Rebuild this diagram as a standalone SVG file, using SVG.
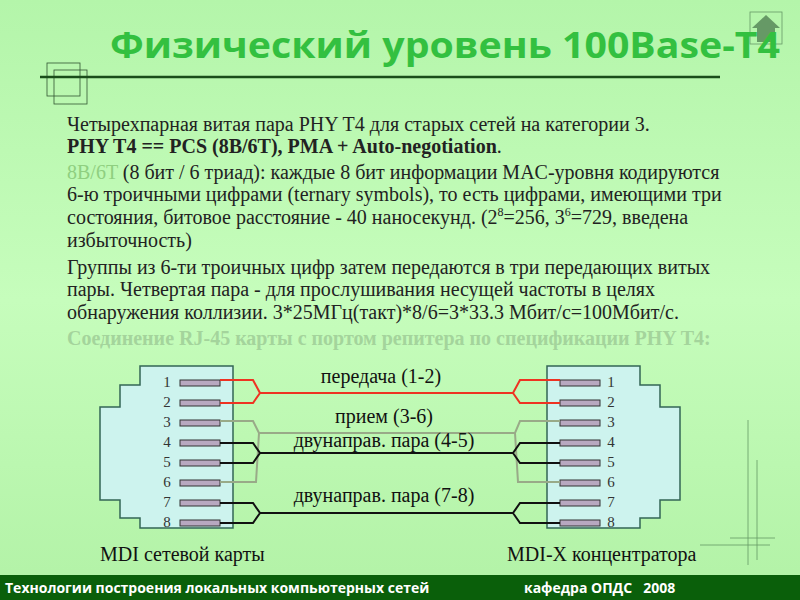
<svg xmlns="http://www.w3.org/2000/svg" width="800" height="600" viewBox="0 0 800 600">
<defs>
<linearGradient id="bg" x1="0" y1="0" x2="0" y2="1"><stop offset="0" stop-color="#b4f5aa"/><stop offset="0.5" stop-color="#c6fdbc"/><stop offset="1" stop-color="#b2f2a6"/></linearGradient>
</defs>
<style>
.t{font-size:20px;fill:#222}
.n{font-size:15px;fill:#333}
.lb{font-size:20px;fill:#111}
.box{fill:#cdf3ee;stroke:#336655;stroke-width:1.5}
.pin{fill:#b8a8c0;stroke:#333;stroke-width:1}
.w{fill:none;stroke-width:2}
</style>
<rect width="800" height="600" fill="url(#bg)"/>
<g id="deco" fill="none" stroke="#335533" stroke-width="0.8">
<rect x="47" y="63" width="33" height="33"/><rect x="54" y="70" width="33" height="34"/>
<rect x="750" y="12" width="32" height="32" stroke="#669966"/>
<path d="M752 28 L766 15 L780 28 Z" fill="#669966" stroke="none"/>
<rect x="757" y="28" width="18" height="14" fill="#669966" stroke="none"/>
<g stroke="#669966"><line x1="748" y1="420" x2="748" y2="565"/><line x1="757" y1="460" x2="757" y2="560"/><line x1="700" y1="545" x2="770" y2="545"/><line x1="730" y1="538" x2="775" y2="538"/></g>
</g>
<text x="110" y="58" textLength="670" lengthAdjust="spacingAndGlyphs" font-family="'Open Sans','DejaVu Sans',sans-serif" font-weight="bold" font-size="36" fill="#33c040">Физический уровень 100Base-T4</text>
<line x1="40" y1="77" x2="720" y2="77" stroke="#1a4d1a" stroke-width="2.5"/>
<g id="body" font-family="'Liberation Serif','Times New Roman','DejaVu Serif',serif">
<text class="t" x="67" y="131">Четырехпарная витая пара PHY T4 для старых сетей на категории 3.</text>
<text class="t" x="67" y="153" font-weight="bold">PHY T4 == PCS (8B/6T), PMA + Auto-negotiation<tspan font-weight="normal">.</tspan></text>
<text class="t" x="67" y="179"><tspan fill="#8fcf80">8B/6T</tspan> (8 бит / 6 триад): каждые 8 бит информации MAC-уровня кодируются</text>
<text class="t" x="67" y="201">6-ю троичными цифрами (ternary symbols), то есть цифрами, имеющими три</text>
<text class="t" x="67" y="224">состояния, битовое расстояние - 40 наносекунд. (2<tspan font-size="12" dy="-8">8</tspan><tspan dy="8">=256, 3</tspan><tspan font-size="12" dy="-8">6</tspan><tspan dy="8">=729, введена</tspan></text>
<text class="t" x="67" y="247">избыточность)</text>
<text class="t" x="67" y="274">Группы из 6-ти троичных цифр затем передаются в три передающих витых</text>
<text class="t" x="67" y="296">пары. Четвертая пара - для прослушивания несущей частоты в целях</text>
<text class="t" x="67" y="319">обнаружения коллизии. 3*25МГц(такт)*8/6=3*33.3 Мбит/с=100Мбит/с.</text>
<text class="t" x="67" y="345" font-weight="bold" style="fill:#a4d49c">Соединение RJ-45 карты с портом репитера по спецификации PHY T4:</text>
</g>
<g font-family="'Liberation Serif','Times New Roman','DejaVu Serif',serif">
<g id="mdi">
<path class="box" d="M140 366 H233 V528 H140 V518 H120 V500 H100 V407 H120 V385 H140 Z"/>
<g class="pin"><rect x="180" y="380" width="40" height="6"/><rect x="180" y="400" width="40" height="6"/><rect x="180" y="420" width="40" height="6"/><rect x="180" y="440" width="40" height="6"/><rect x="180" y="460" width="40" height="6"/><rect x="180" y="480" width="40" height="6"/><rect x="180" y="500" width="40" height="6"/><rect x="180" y="520" width="40" height="6"/></g>
<g class="n" text-anchor="middle"><text x="167" y="387">1</text><text x="167" y="407">2</text><text x="167" y="427">3</text><text x="167" y="447">4</text><text x="167" y="467">5</text><text x="167" y="487">6</text><text x="167" y="507">7</text><text x="167" y="527">8</text></g>
<text class="lb" x="100" y="561" font-size="21">MDI сетевой карты</text>
</g>
<g id="mdix">
<path class="box" d="M547 366 H640 V385 H660 V407 H680 V500 H660 V518 H640 V528 H547 Z"/>
<g class="pin"><rect x="560" y="380" width="40" height="6"/><rect x="560" y="400" width="40" height="6"/><rect x="560" y="420" width="40" height="6"/><rect x="560" y="440" width="40" height="6"/><rect x="560" y="460" width="40" height="6"/><rect x="560" y="480" width="40" height="6"/><rect x="560" y="500" width="40" height="6"/><rect x="560" y="520" width="40" height="6"/></g>
<g class="n" text-anchor="middle"><text x="611" y="387">1</text><text x="611" y="407">2</text><text x="611" y="427">3</text><text x="611" y="447">4</text><text x="611" y="467">5</text><text x="611" y="487">6</text><text x="611" y="507">7</text><text x="611" y="527">8</text></g>
<text class="lb" x="507" y="561">MDI-X концентратора</text>
</g>
<g id="connectors">
<path class="w" stroke="#ee3322" d="M220 380 H253 L260 393 L253 403 H220 M260 393 H513 L520 380 H560 M513 393 L520 403 H560"/>
<path class="w" stroke="#99aa88" d="M220 421 H253 L259 433 L256 482 H220 M259 433 H515 L520 421 H560 M515 433 L518 482 H560"/>
<path class="w" stroke="#111" d="M220 443 H253 L260 453 L253 463 H220 M260 453 H513 L520 443 H560 M513 453 L520 463 H560"/>
<path class="w" stroke="#111" d="M220 503 H253 L260 513 L253 523 H220 M260 513 H513 L520 503 H560 M513 513 L520 523 H560"/>
</g>
<g id="labels" class="lb" text-anchor="middle">
<text x="381" y="383">передача (1-2)</text>
<text x="384" y="423">прием (3-6)</text>
<text x="384" y="447">двунаправ. пара (4-5)</text>
<text x="384" y="502">двунаправ. пара (7-8)</text>
</g>
</g>
<rect x="0" y="575" width="800" height="25" fill="#0a5f0a"/>
<text x="5" y="593" font-family="'Open Sans','DejaVu Sans',sans-serif" font-weight="bold" font-size="14" fill="#fff">Технологии построения локальных компьютерных сетей</text>
<text x="524" y="593" font-family="'Open Sans','DejaVu Sans',sans-serif" font-weight="bold" font-size="14" fill="#fff" xml:space="preserve">кафедра ОПДС   2008</text>
</svg>
